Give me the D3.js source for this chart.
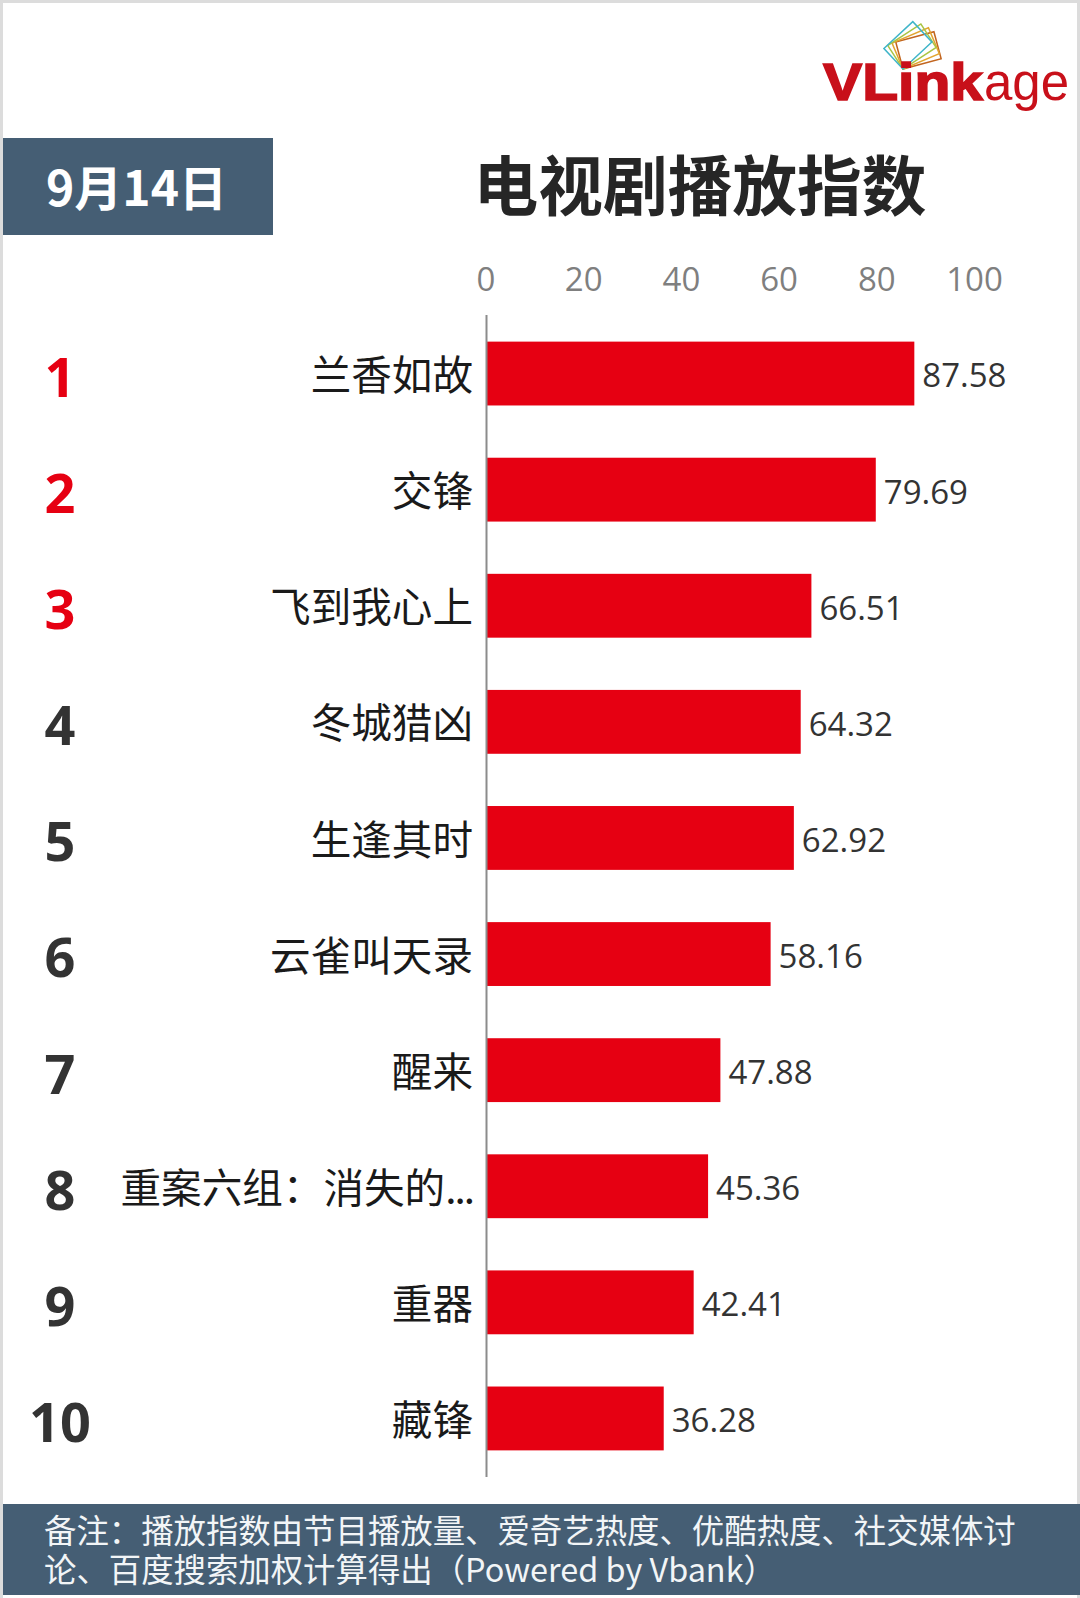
<!DOCTYPE html>
<html>
<head>
<meta charset="utf-8">
<style>
  * { margin: 0; padding: 0; box-sizing: border-box; }
  body { background: #fff; width: 1080px; height: 1598px; overflow: hidden; }
  svg { display: block; }
</style>
</head>
<body>
<div id="chart"></div>
<script src="https://cdn.jsdelivr.net/npm/d3@7"></script>
<script>
const shows = ['兰香如故', '交锋', '飞到我心上', '冬城猎凶', '生逢其时', '云雀叫天录', '醒来', '重案六组：消失的...', '重器', '藏锋'];
const ranks = ['1', '2', '3', '4', '5', '6', '7', '8', '9', '10'];
const values = [87.58, 79.69, 66.51, 64.32, 62.92, 58.16, 47.88, 45.36, 42.41, 36.28];
const xTicks = [0, 20, 40, 60, 80, 100];
const footerLines = [
  '备注：播放指数由节目播放量、爱奇艺热度、优酷热度、社交媒体讨',
  '论、百度搜索加权计算得出（Powered by Vbank）'
];

const CJK = '"Noto Sans CJK SC", "Noto Sans", sans-serif';
const NUM = '"Open Sans", "Noto Sans", sans-serif';
const RED = '#e60012';
const SLATE = '#455e74';

const svg = d3.select('#chart').append('svg').attr('width', 1080).attr('height', 1598);

// page frame
svg.append('rect').attr('width', 1080).attr('height', 1598).attr('fill', '#dcdcdc');
svg.append('rect').attr('x', 3).attr('y', 3).attr('width', 1074).attr('height', 1595).attr('fill', '#fff');

// scales
const x = d3.scaleLinear().domain([0, 100]).range([486.5, 975]);
const y = d3.scaleBand().domain(ranks).range([315.5, 1476.5]).paddingInner(0.45).paddingOuter(0.225);

// header
svg.append('rect').attr('x', 3).attr('y', 138).attr('width', 270).attr('height', 97).attr('fill', SLATE);
svg.append('text').attr('x', 136.5).attr('y', 206).attr('text-anchor', 'middle')
  .attr('font-family', CJK).attr('font-weight', 700).attr('font-size', 48).attr('fill', '#fff')
  .text('9月14日');
svg.append('text').attr('x', 700).attr('y', 210).attr('text-anchor', 'middle')
  .attr('font-family', CJK).attr('font-weight', 700).attr('font-size', 64.7).attr('fill', '#262626')
  .text('电视剧播放指数');

// logo
const logo = svg.append('g').attr('class', 'logo');
const logoFrames = [
  { color: '#c2651f', angle: -15 },
  { color: '#e2a52f', angle: -23 },
  { color: '#a9c544', angle: -33 },
  { color: '#3fb5c9', angle: -43 }
];
logo.selectAll('rect').data(logoFrames).join('rect')
  .attr('x', 0).attr('y', -28).attr('width', 39.5).attr('height', 28)
  .attr('fill', 'none').attr('stroke', d => d.color).attr('stroke-width', 1.5)
  .attr('transform', d => `translate(903,69) rotate(${d.angle})`);
logo.append('text').attr('x', 823).attr('y', 100)
  .attr('font-family', '"Liberation Sans", Arial, sans-serif').attr('font-weight', 700).attr('font-size', 52)
  .attr('fill', '#c8101a').attr('stroke', '#c8101a').attr('stroke-width', 1.6)
  .attr('textLength', 160).attr('lengthAdjust', 'spacingAndGlyphs').text('VLink');
logo.append('text').attr('x', 984).attr('y', 100)
  .attr('font-family', '"Liberation Sans", Arial, sans-serif').attr('font-size', 51)
  .attr('fill', '#c8101a').text('age');

// value axis on top
const axis = svg.append('g').attr('transform', 'translate(-1,291)')
  .call(d3.axisTop(x).tickValues(xTicks).tickSize(0).tickPadding(0).tickFormat(d3.format('d')));
axis.select('.domain').remove();
axis.selectAll('text').attr('font-family', NUM).attr('font-size', 33).attr('fill', '#7f7f7f');

// bars
svg.append('g').selectAll('rect').data(values).join('rect')
  .attr('x', x(0))
  .attr('y', (d, i) => y(ranks[i]))
  .attr('width', d => x(d) - x(0))
  .attr('height', y.bandwidth())
  .attr('fill', RED);

// category axis line
svg.append('line').attr('x1', x(0)).attr('x2', x(0)).attr('y1', 315).attr('y2', 1477)
  .attr('stroke', '#8c8c8c').attr('stroke-width', 2);

// show names, the truncated one has tighter dots in the original
svg.append('g').selectAll('text').data(shows).join('text')
  .attr('x', 473)
  .attr('y', (d, i) => y(ranks[i]) + y.bandwidth() / 2 + 2)
  .attr('dy', '0.36em')
  .attr('text-anchor', 'end')
  .attr('font-family', CJK).attr('font-size', 40.6).attr('fill', '#1a1a1a')
  .each(function(d) {
    const t = d3.select(this);
    if (d.endsWith('...')) {
      t.append('tspan').text(d.slice(0, -3));
      t.append('tspan').attr('letter-spacing', -2).text('...');
    } else {
      t.text(d);
    }
  });

// value labels
svg.append('g').selectAll('text').data(values).join('text')
  .attr('x', d => x(d) + 8)
  .attr('y', (d, i) => y(ranks[i]) + y.bandwidth() / 2 + 2)
  .attr('dy', '0.36em')
  .attr('font-family', NUM).attr('font-size', 33).attr('fill', '#333')
  .text(d => d3.format('.2f')(d));

// rank numbers
svg.append('g').selectAll('text').data(ranks).join('text')
  .attr('x', 60)
  .attr('y', d => y(d) + y.bandwidth() / 2 + 4)
  .attr('dy', '0.36em')
  .attr('text-anchor', 'middle')
  .attr('font-family', NUM).attr('font-weight', 700).attr('font-size', 54)
  .attr('fill', (d, i) => i < 3 ? RED : '#333')
  .text(d => d);

// footer
svg.append('rect').attr('x', 3).attr('y', 1504).attr('width', 1077).attr('height', 91).attr('fill', SLATE);
svg.append('g').selectAll('text').data(footerLines).join('text')
  .attr('x', 44)
  .attr('y', (d, i) => 1543 + i * 39)
  .attr('font-family', CJK).attr('font-size', 32.4).attr('fill', '#f2f5f7')
  .text(d => d);
</script>
</body>
</html>
